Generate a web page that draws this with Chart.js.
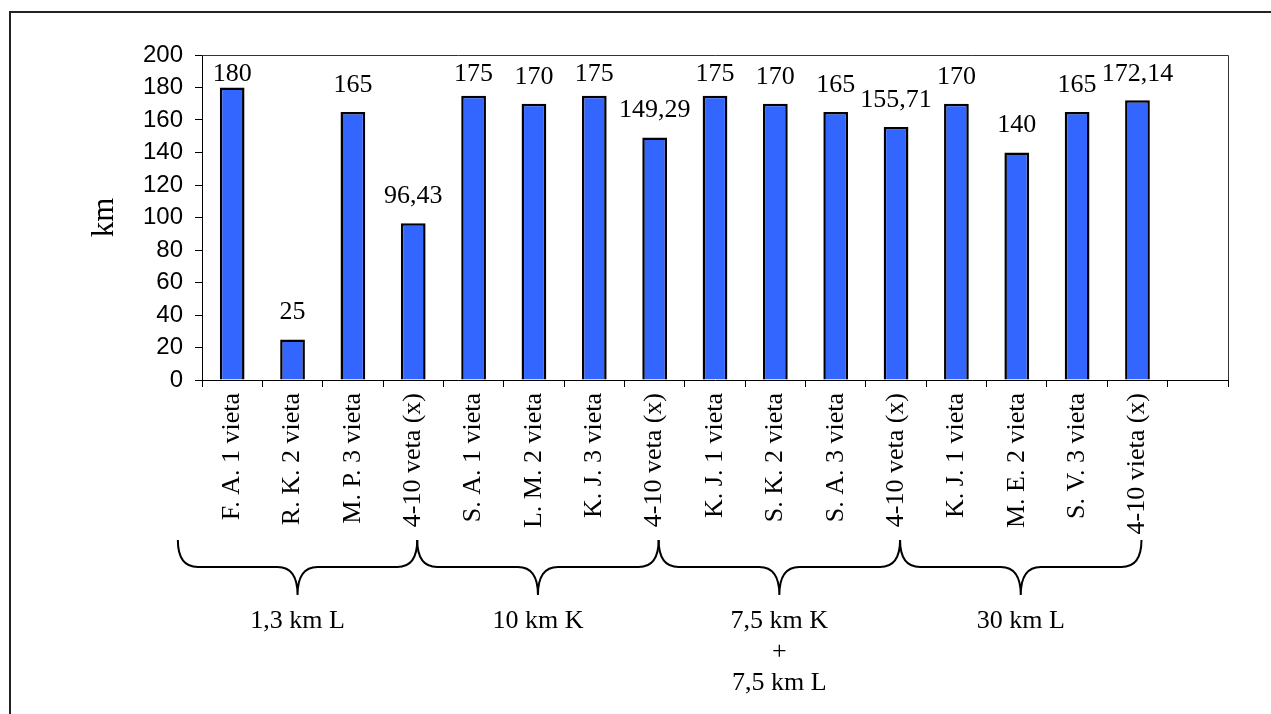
<!DOCTYPE html>
<html>
<head>
<meta charset="utf-8">
<title>km</title>
<script src="https://cdn.jsdelivr.net/npm/chart.js@4/dist/chart.umd.min.js"></script>
<style>
  html, body { margin: 0; padding: 0; background: #ffffff; }
  #wrap { width: 1271px; height: 714px; position: relative; }
  canvas { display: block; }
</style>
</head>
<body>
<div id="wrap"><canvas id="c" width="1271" height="714"></canvas></div>
<script>
// Categories (the last slot is left empty on purpose)
const categories = [
  'F. A. 1 vieta', 'R. K. 2 vieta', 'M. P. 3 vieta', '4-10 veta (x)',
  'S. A. 1 vieta', 'L. M. 2 vieta', 'K. J. 3 vieta', '4-10 veta (x)',
  'K. J. 1 vieta', 'S. K. 2 vieta', 'S. A. 3 vieta', '4-10 veta (x)',
  'K. J. 1 vieta', 'M. E. 2 vieta', 'S. V. 3 vieta', '4-10 vieta (x)',
  ''
];

// Distance in km
const distances = [
  180, 25, 165, 96.43,
  175, 170, 175, 149.29,
  175, 170, 165, 155.71,
  170, 140, 165, 172.14,
  null
];

// Value axis
const yMin = 0;
const yMax = 200;
const yStep = 20;
const yTitle = 'km';

// Category groups, four bars each
const groupSize = 4;
const groupLabels = [
  ['1,3 km L'],
  ['10 km K'],
  ['7,5 km K', '+', '7,5 km L'],
  ['30 km L']
];

const SERIF = '"Liberation Serif", "Times New Roman", serif';
const SANS = '"Liberation Sans", Arial, sans-serif';

const fmt = v => String(v).replace('.', ',');

// White page, outer border and the frame around the plot area
const framePlugin = {
  id: 'frame',
  beforeDraw(chart) {
    const ctx = chart.ctx;
    ctx.save();
    ctx.fillStyle = '#ffffff';
    ctx.fillRect(0, 0, chart.width, chart.height);
    ctx.strokeStyle = '#222222';
    ctx.lineWidth = 2;
    ctx.beginPath();
    ctx.moveTo(10, chart.height);
    ctx.lineTo(10, 12);
    ctx.lineTo(chart.width, 12);
    ctx.stroke();
    ctx.restore();
  },
  afterDraw(chart) {
    const a = chart.chartArea;
    const ctx = chart.ctx;
    ctx.save();
    ctx.strokeStyle = '#333333';
    ctx.lineWidth = 1;
    ctx.beginPath();
    ctx.moveTo(a.left, a.top + 0.5);
    ctx.lineTo(a.right + 0.5, a.top + 0.5);
    ctx.lineTo(a.right + 0.5, a.bottom);
    ctx.stroke();
    ctx.restore();
  }
};

// Value labels above the bars
const valueLabelPlugin = {
  id: 'valueLabels',
  afterDatasetsDraw(chart) {
    const ctx = chart.ctx;
    const meta = chart.getDatasetMeta(0);
    ctx.save();
    ctx.font = '26px ' + SERIF;
    ctx.fillStyle = '#000000';
    ctx.textAlign = 'center';
    ctx.textBaseline = 'middle';
    meta.data.forEach((bar, i) => {
      const v = distances[i];
      if (v === null || v === undefined) return;
      const y = Math.max(bar.y - 27, chart.chartArea.top + 19);
      ctx.fillText(fmt(v), bar.x, y);
    });
    ctx.restore();
  }
};

// Curly braces under the category labels, with the group names
const bracePlugin = {
  id: 'braces',
  afterDraw(chart) {
    const x = chart.scales.x;
    const ctx = chart.ctx;
    const yTop = 540, yMid = 567, yTip = 595, r = 20;
    ctx.save();
    ctx.strokeStyle = '#000000';
    ctx.lineWidth = 2;
    ctx.fillStyle = '#000000';
    ctx.font = '26px ' + SERIF;
    ctx.textAlign = 'center';
    ctx.textBaseline = 'middle';
    groupLabels.forEach((lines, g) => {
      const first = g * groupSize;
      const x0 = g === 0 ? x.getPixelForValue(first - 0.9) : x.getPixelForValue(first - 1) + 4;
      const x1 = x.getPixelForValue(first + groupSize - 1) + 4;
      const xc = (x0 + x1) / 2;
      ctx.beginPath();
      ctx.moveTo(x0, yTop);
      ctx.quadraticCurveTo(x0, yMid, x0 + r, yMid);
      ctx.lineTo(xc - r, yMid);
      ctx.quadraticCurveTo(xc, yMid, xc, yTip);
      ctx.quadraticCurveTo(xc, yMid, xc + r, yMid);
      ctx.lineTo(x1 - r, yMid);
      ctx.quadraticCurveTo(x1, yMid, x1, yTop);
      ctx.stroke();
      lines.forEach((t, k) => {
        ctx.fillText(t, xc, 621 + k * 31);
      });
    });
    ctx.restore();
  }
};

new Chart(document.getElementById('c'), {
  type: 'bar',
  data: {
    labels: categories,
    datasets: [{
      data: distances,
      backgroundColor: '#3366ff',
      borderColor: '#000000',
      borderWidth: 2.5,
      barPercentage: 0.41,
      categoryPercentage: 1.0
    }]
  },
  options: {
    responsive: false,
    devicePixelRatio: 1,
    animation: false,
    layout: { padding: { top: 55, right: 43, bottom: 0, left: 0 } },
    plugins: {
      legend: { display: false },
      tooltip: { enabled: false },
      title: { display: false }
    },
    scales: {
      x: {
        offset: true,
        grid: {
          offset: true,
          drawOnChartArea: false,
          drawTicks: true,
          tickLength: 7,
          color: '#000000'
        },
        border: { display: true, color: '#000000', width: 1 },
        ticks: {
          autoSkip: false,
          minRotation: 90,
          maxRotation: 90,
          padding: 6,
          color: '#000000',
          font: { family: SERIF, size: 26 }
        },
        afterFit(scale) { scale.height = 334; }
      },
      y: {
        min: yMin,
        max: yMax,
        grid: {
          drawOnChartArea: false,
          drawTicks: true,
          tickLength: 7,
          color: '#000000'
        },
        border: { display: true, color: '#000000', width: 1 },
        ticks: {
          stepSize: yStep,
          padding: 12,
          color: '#000000',
          font: { family: SANS, size: 24 }
        },
        title: {
          display: true,
          text: yTitle,
          color: '#000000',
          font: { family: SERIF, size: 31 },
          padding: { top: 86, bottom: 0 }
        },
        afterFit(scale) { scale.width = 202; }
      }
    }
  },
  plugins: [framePlugin, valueLabelPlugin, bracePlugin]
});
</script>
</body>
</html>
